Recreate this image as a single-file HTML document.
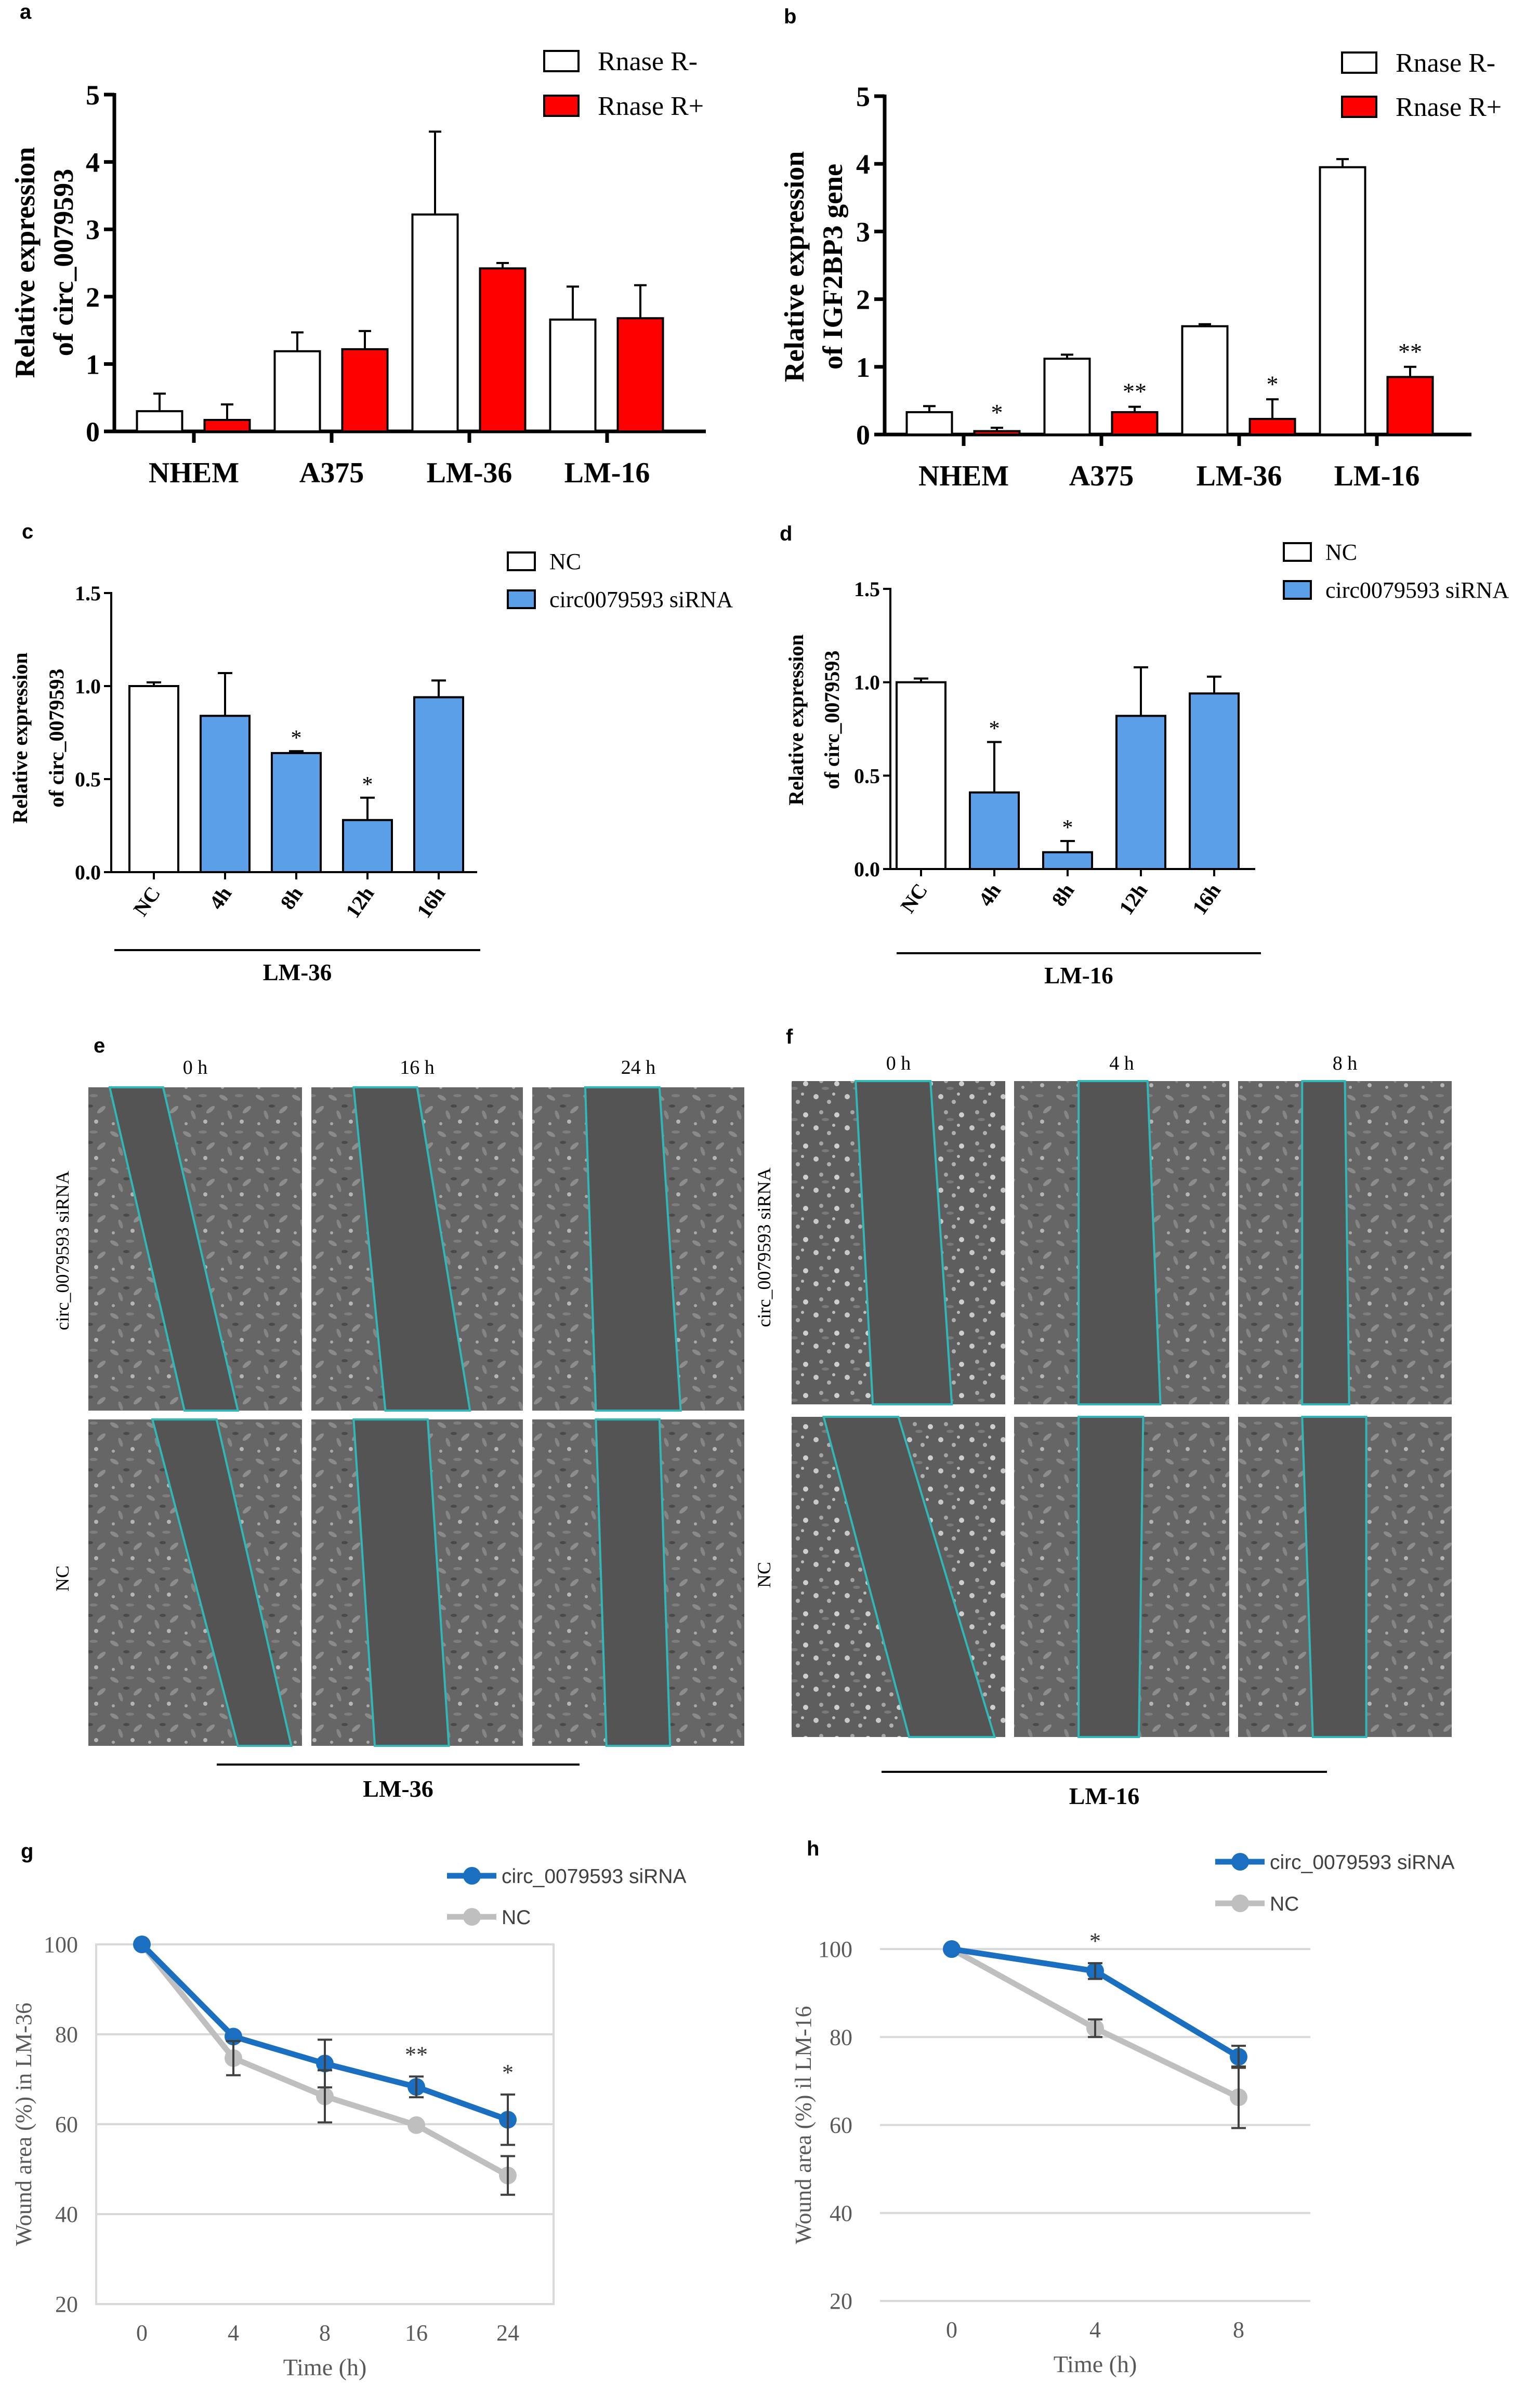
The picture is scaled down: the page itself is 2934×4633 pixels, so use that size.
<!DOCTYPE html>
<html><head><meta charset="utf-8"><style>
html,body{margin:0;padding:0;background:#fff;}
svg{display:block;}
.serif{font-family:"Liberation Serif",serif;}
.sans{font-family:"Liberation Sans",sans-serif;}
</style></head><body>
<svg id="fig" xmlns="http://www.w3.org/2000/svg" width="2934" height="4633" viewBox="0 0 2934 4633">
<defs>
<pattern id="cellsA" width="70" height="70" patternUnits="userSpaceOnUse">
<rect width="70" height="70" fill="#666"/>
<ellipse cx="10" cy="12" rx="9" ry="4" fill="#8a8a8a" transform="rotate(30 10 12)"/>
<ellipse cx="40" cy="8" rx="8" ry="3" fill="#7e7e7e"/>
<ellipse cx="55" cy="35" rx="10" ry="4" fill="#8d8d8d" transform="rotate(-40 55 35)"/>
<ellipse cx="22" cy="45" rx="9" ry="3.5" fill="#858585" transform="rotate(70 22 45)"/>
<circle cx="45" cy="58" r="4" fill="#b5b5b5"/>
<circle cx="8" cy="62" r="3" fill="#a8a8a8"/>
<ellipse cx="33" cy="28" rx="6" ry="3" fill="#4a4a4a"/>
</pattern>
<pattern id="cellsB" width="60" height="60" patternUnits="userSpaceOnUse">
<rect width="60" height="60" fill="#5e5e5e"/>
<circle cx="10" cy="10" r="5" fill="#c8c8c8"/>
<circle cx="35" cy="20" r="4" fill="#b0b0b0"/>
<circle cx="50" cy="45" r="5" fill="#cfcfcf"/>
<circle cx="20" cy="40" r="4" fill="#a5a5a5"/>
<circle cx="44" cy="5" r="3" fill="#bdbdbd"/>
<ellipse cx="28" cy="54" rx="7" ry="3" fill="#7a7a7a"/>
</pattern>
</defs>
</svg>
<script>
// ---------- DATA ----------
const aCats = ['NHEM','A375','LM-36','LM-16'];
const aMinus = [0.30,1.19,3.22,1.66];
const aMinusErr = [0.26,0.28,1.23,0.49];
const aPlus = [0.17,1.22,2.42,1.68];
const aPlusErr = [0.23,0.27,0.08,0.49];
const aTicks = ['0','1','2','3','4','5'];

const bCats = ['NHEM','A375','LM-36','LM-16'];
const bMinus = [0.33,1.12,1.60,3.95];
const bMinusErr = [0.09,0.06,0.03,0.12];
const bPlus = [0.05,0.33,0.23,0.85];
const bPlusErr = [0.05,0.08,0.29,0.15];
const bStars = ['*','**','*','**'];

const cCats = ['NC','4h','8h','12h','16h'];
const cVals = [1.00,0.84,0.64,0.28,0.94];
const cErr = [0.02,0.23,0.01,0.12,0.09];
const cStars = ['','','*','*',''];
const cdTicks = ['0.0','0.5','1.0','1.5'];

const dCats = ['NC','4h','8h','12h','16h'];
const dVals = [1.00,0.41,0.09,0.82,0.94];
const dErr = [0.02,0.27,0.06,0.26,0.09];
const dStars = ['','*','*','',''];

const gCats = ['0','4','8','16','24'];
const gSi = [100,79.5,73.5,68.3,61.0];
const gSiErr = [0,0,5.3,2.3,5.6];
const gNc = [100,74.7,66.2,59.8,48.6];
const gNcErr = [0,3.8,5.8,0,4.3];
const gStars = ['','','','**','*'];
const ghTicks = [20,40,60,80,100];

const hCats = ['0','4','8'];
const hSi = [100,95.0,75.5];
const hSiErr = [0,1.8,2.5];
const hNc = [100,82.0,66.3];
const hNcErr = [0,2.0,7.0];
const hStars = ['','*',''];

// ---------- HELPERS ----------
const svg = document.getElementById('fig');
const NS = 'http://www.w3.org/2000/svg';
function mk(tag, attrs, parent){
  const e = document.createElementNS(NS, tag);
  for (const k in attrs) e.setAttribute(k, attrs[k]);
  (parent||svg).appendChild(e);
  return e;
}
function txt(s, attrs, parent){ const t = mk('text', attrs, parent); t.textContent = s; return t; }

function panelLabel(ch, x, y){
  const t = txt(ch, {x:x, y:y, 'font-size':40, 'font-weight':'bold', class:'sans'});
  
  
}

function groupBar(id, g0, cats, minus, minusErr, plus, plusErr, stars, ylab){
  const G = mk('g', {});
  
  
  const y = v => g0.y0 - (g0.y0 - g0.y5) * v / 5;
  const bw = 87;
  const ax = mk('line', {x1:g0.ax, y1:g0.y5-3, x2:g0.ax, y2:g0.y0+3, stroke:'#000','stroke-width':7}, G);
  
  
  aTicks.forEach((t,i) => {
    mk('line', {x1:g0.ax-20, y1:y(i), x2:g0.ax, y2:y(i), stroke:'#000','stroke-width':7}, G);
    const tl = txt(t, {x:g0.ax-28, y:y(i)+19, 'font-size':54, 'font-weight':'bold', 'text-anchor':'end', class:'serif'}, G);
    
    
  });
  const xa = mk('line', {x1:g0.ax, y1:g0.y0, x2:g0.xe, y2:g0.y0, stroke:'#000','stroke-width':7}, G);
  
  
  cats.forEach((c,i) => {
    const cx = g0.c0 + i * g0.step;
    mk('line', {x1:cx, y1:g0.y0, x2:cx, y2:g0.y0+22, stroke:'#000','stroke-width':7}, G);
    const cl = txt(c, {x:cx, y:g0.y0+98, 'font-size':56, 'font-weight':'bold', 'text-anchor':'middle', class:'serif'}, G);
    
    
    [[minus, minusErr, '#fff', -66], [plus, plusErr, '#ff0000', 64]].forEach(([vals, errs, fill, off], s) => {
      const bx = cx + off - bw/2, top = y(vals[i]), et = y(vals[i] + errs[i]);
      mk('line', {x1:cx+off, y1:top, x2:cx+off, y2:et, stroke:'#000','stroke-width':4}, G);
      mk('line', {x1:cx+off-12, y1:et, x2:cx+off+12, y2:et, stroke:'#000','stroke-width':4}, G);
      const r = mk('rect', {x:bx, y:top, width:bw, height:g0.y0-top, fill:fill, stroke:'#000','stroke-width':4}, G);
      
      
      if (s === 1 && stars && stars[i]) {
        const st = txt(stars[i], {x:cx+off, y:et-14, 'font-size':46, 'text-anchor':'middle', class:'serif'}, G);
        
        
      }
    });
  });
  const yl = txt('', {transform:`translate(${g0.yl1},${g0.ylc}) rotate(-90)`, 'font-size':54, 'font-weight':'bold', 'text-anchor':'middle', class:'serif'}, G);
  
  
  const s1 = mk('tspan', {x:0, y:0}, yl); s1.textContent = 'Relative expression';
  const s2 = mk('tspan', {x:0, y:g0.yl2 - g0.yl1}, yl); s2.textContent = ylab;
  [['Rnase R-','#fff',g0.ly1],['Rnase R+','#ff0000',g0.ly2]].forEach(([l,f,ly]) => {
    const lg = mk('g', {}, G);
    
    
    mk('rect', {x:g0.lx, y:ly-19, width:66, height:39, fill:f, stroke:'#000','stroke-width':4}, lg);
    txt(l, {x:g0.lx+103, y:ly+18, 'font-size':52, class:'serif'}, lg);
  });
}

function singleBar(id, g0, cats, vals, errs, stars, line){
  const G = mk('g', {});
  
  
  const y = v => g0.y0 - (g0.y0 - g0.y15) * v / 1.5;
  const bw = 94;
  const ax = mk('line', {x1:g0.ax, y1:g0.y15-2, x2:g0.ax, y2:g0.y0+2, stroke:'#000','stroke-width':4}, G);
  
  
  cdTicks.forEach((t,i) => {
    const v = parseFloat(t);
    mk('line', {x1:g0.ax-14, y1:y(v), x2:g0.ax, y2:y(v), stroke:'#000','stroke-width':4}, G);
    const tl = txt(t, {x:g0.ax-20, y:y(v)+14, 'font-size':40, 'font-weight':'bold', 'text-anchor':'end', class:'serif'}, G);
    
    
  });
  const xa = mk('line', {x1:g0.ax, y1:g0.y0, x2:g0.xe, y2:g0.y0, stroke:'#000','stroke-width':4}, G);
  
  
  cats.forEach((c,i) => {
    const cx = g0.c0 + i * g0.step;
    mk('line', {x1:cx, y1:g0.y0, x2:cx, y2:g0.y0+14, stroke:'#000','stroke-width':4}, G);
    const top = y(vals[i]), et = y(vals[i] + errs[i]);
    mk('line', {x1:cx, y1:top, x2:cx, y2:et, stroke:'#000','stroke-width':4}, G);
    mk('line', {x1:cx-14, y1:et, x2:cx+14, y2:et, stroke:'#000','stroke-width':4}, G);
    const r = mk('rect', {x:cx-bw/2, y:top, width:bw, height:g0.y0-top, fill:i===0?'#fff':'#5a9fe8', stroke:'#000','stroke-width':4}, G);
    
    
    if (stars[i]) {
      const st = txt(stars[i], {x:cx, y:et-12, 'font-size':42, 'text-anchor':'middle', class:'serif'}, G);
      
      
    }
    const cl = txt(c, {transform:`translate(${cx+14},${g0.y0+40}) rotate(-55)`, 'font-size':40, 'font-weight':'bold', 'text-anchor':'end', class:'serif'}, G);
    
    
  });
  const yl = txt('', {transform:`translate(${g0.yl1},${g0.ylc}) rotate(-90)`, 'font-size':40, 'font-weight':'bold', 'text-anchor':'middle', class:'serif'}, G);
  
  
  const s1 = mk('tspan', {x:0, y:0}, yl); s1.textContent = 'Relative expression';
  const s2 = mk('tspan', {x:0, y:g0.yl2 - g0.yl1}, yl); s2.textContent = 'of circ_0079593';
  const gl = mk('line', {x1:line.x1, y1:line.y, x2:line.x2, y2:line.y, stroke:'#000','stroke-width':4}, G);
  
  
  const gt = txt(line.label, {x:(line.x1+line.x2)/2, y:line.y+58, 'font-size':45, 'font-weight':'bold', 'text-anchor':'middle', class:'serif'}, G);
  
  
  [['NC','#fff',g0.ly1],['circ0079593 siRNA','#5a9fe8',g0.ly2]].forEach(([l,f,ly]) => {
    const lg = mk('g', {}, G);
    
    
    mk('rect', {x:g0.lx, y:ly-17, width:52, height:34, fill:f, stroke:'#000','stroke-width':4}, lg);
    txt(l, {x:g0.lx+80, y:ly+15, 'font-size':44, class:'serif'}, lg);
  });
}

function lineChart(id, g0, cats, si, siErr, nc, ncErr, stars, ylab, border){
  const G = mk('g', {});
  
  
  const y = v => g0.y20 - (g0.y20 - g0.y100) * (v - 20) / 80;
  const x = i => g0.x0 + g0.step * (i + 0.5);
  ghTicks.forEach(t => {
    const gl = mk('line', {x1:g0.x0, y1:y(t), x2:g0.x1, y2:y(t), stroke:'#d9d9d9','stroke-width':4}, G);
    
    
    const tl = txt(String(t), {x:g0.tx, y:y(t)+15, 'font-size':44, fill:'#595959', 'text-anchor':'end', class:'serif'}, G);
    
    
  });
  if (border) {
    const b = mk('rect', {x:g0.x0, y:y(100), width:g0.x1-g0.x0, height:y(20)-y(100), fill:'none', stroke:'#d9d9d9','stroke-width':4}, G);
    
    
  }
  cats.forEach((c,i) => {
    const tl = txt(c, {x:x(i), y:y(20)+70, 'font-size':44, fill:'#595959', 'text-anchor':'middle', class:'serif'}, G);
    
    
  });
  const xt = txt('Time (h)', {x:(g0.x0+g0.x1)/2, y:y(20)+137, 'font-size':46, fill:'#595959', 'text-anchor':'middle', class:'serif'}, G);
  
  
  const yt = txt(ylab, {transform:`translate(${g0.ylx},${(y(20)+y(100))/2}) rotate(-90)`, 'font-size':44, fill:'#595959', 'text-anchor':'middle', class:'serif'}, G);
  
  
  [[nc, ncErr, '#bfbfbf', 'series-nc'], [si, siErr, '#1a6fc0', 'series-sirna']].forEach(([vals, errs, col, nm]) => {
    const pl = mk('polyline', {points: vals.map((v,i) => x(i)+','+y(v)).join(' '), fill:'none', stroke:col, 'stroke-width':11, 'stroke-linejoin':'round'}, G);
    
    
    vals.forEach((v,i) => {
      const c = mk('circle', {cx:x(i), cy:y(v), r:17, fill:col}, G);
      
      
    });
  });
  [[nc, ncErr], [si, siErr]].forEach(([vals, errs]) => {
    vals.forEach((v,i) => {
      if (!errs[i]) return;
      const a = y(v + errs[i]), b = y(v - errs[i]);
      mk('line', {x1:x(i), y1:a, x2:x(i), y2:b, stroke:'#404040','stroke-width':4}, G);
      mk('line', {x1:x(i)-14, y1:a, x2:x(i)+14, y2:a, stroke:'#404040','stroke-width':4}, G);
      mk('line', {x1:x(i)-14, y1:b, x2:x(i)+14, y2:b, stroke:'#404040','stroke-width':4}, G);
    });
  });
  stars.forEach((s,i) => {
    if (!s) return;
    const st = txt(s, {x:x(i), y:y(si[i] + siErr[i]) - 28, 'font-size':44, fill:'#333', 'text-anchor':'middle', class:'serif'}, G);
    
    
  });
  [['circ_0079593 siRNA','#1a6fc0',g0.ly1],['NC','#bfbfbf',g0.ly2]].forEach(([l,col,ly]) => {
    const lg = mk('g', {}, G);
    
    
    mk('line', {x1:g0.lx, y1:ly, x2:g0.lx+95, y2:ly, stroke:col, 'stroke-width':11}, lg);
    mk('circle', {cx:g0.lx+48, cy:ly, r:17, fill:col}, lg);
    txt(l, {x:g0.lx+105, y:ly+14, 'font-size':39, fill:'#404040', class:'sans'}, lg);
  });
}

function micro(x, y, w, h, band, pat, nm){
  const G = mk('g', {});
  
  
  mk('rect', {x:x, y:y, width:w, height:h, fill:'url(#'+pat+')'}, G);
  const p = `${x+w*band[0]},${y} ${x+w*band[1]},${y} ${x+w*band[3]},${y+h} ${x+w*band[2]},${y+h}`;
  mk('polygon', {points:p, fill:'#545454', stroke:'#30b8b8', 'stroke-width':4}, G);
}

// ---------- DRAW ----------
panelLabel('a', 38, 36);
groupBar('a', {ax:220, y5:182, y0:830, xe:1358, c0:373, step:265, yl1:66, yl2:140, ylc:505, lx:1047, ly1:117, ly2:203}, aCats, aMinus, aMinusErr, aPlus, aPlusErr, null, 'of circ_0079593');
panelLabel('b', 1508, 45);
groupBar('b', {ax:1702, y5:185, y0:836, xe:2831, c0:1854, step:265, yl1:1546, yl2:1620, ylc:513, lx:2582, ly1:120, ly2:205}, bCats, bMinus, bMinusErr, bPlus, bPlusErr, bStars, 'of IGF2BP3 gene');

panelLabel('c', 42, 1036);
singleBar('c', {ax:214, y15:1141, y0:1678, xe:918, c0:296, step:137, yl1:52, yl2:122, ylc:1420, lx:977, ly1:1080, ly2:1153}, cCats, cVals, cErr, cStars, {x1:220, x2:924, y:1828, label:'LM-36'});
panelLabel('d', 1500, 1040);
singleBar('d', {ax:1713, y15:1133, y0:1672, xe:2415, c0:1772, step:141, yl1:1545, yl2:1614, ylc:1385, lx:2470, ly1:1062, ly2:1135}, dCats, dVals, dErr, dStars, {x1:1725, x2:2426, y:1834, label:'LM-16'});

panelLabel('e', 180, 2025);
panelLabel('f', 1512, 2008);
const eCols = [[170,411],[599,407],[1024,408]];
const eRows = [[2092,622],[2731,628]];
const eBands = [[[.1,.35,.45,.7],[.2,.5,.35,.75],[.25,.6,.3,.7]],[[.3,.6,.7,.95],[.2,.55,.3,.65],[.3,.6,.35,.65]]];
const fCols = [[1523,411],[1951,414],[2382,411]];
const fRows = [[2080,622],[2726,616]];
const fBands = [[[.3,.65,.38,.75],[.3,.62,.3,.68],[.3,.5,.3,.52]],[[.15,.5,.55,.95],[.3,.6,.3,.58],[.3,.6,.35,.6]]];
const eHead = ['0 h','16 h','24 h'], fHead = ['0 h','4 h','8 h'];
eRows.forEach((r,ri) => eCols.forEach((c,ci) => micro(c[0], r[0], c[1], r[1], eBands[ri][ci], 'cellsA', 'micrograph-e-r'+(ri+1)+'c'+(ci+1))));
fRows.forEach((r,ri) => fCols.forEach((c,ci) => micro(c[0], r[0], c[1], r[1], fBands[ri][ci], ci===0?'cellsB':'cellsA', 'micrograph-f-r'+(ri+1)+'c'+(ci+1))));
[[eCols,eHead,2066,[417,1115,3395,'LM-36'],132,[2406,3037]],[fCols,fHead,2058,[1696,2553,3409,'LM-16'],1482,[2400,3030]]].forEach(([cols,heads,hy,ln,lx,rys]) => {
  cols.forEach((c,i) => {
    const t = txt(heads[i], {x:c[0]+c[1]/2, y:hy, 'font-size':38, 'text-anchor':'middle', class:'serif'});
    
    
  });
  [['circ_0079593 siRNA',rys[0]],['NC',rys[1]]].forEach(([s,yy]) => {
    const t = txt(s, {transform:`translate(${lx},${yy}) rotate(-90)`, 'font-size':36, 'text-anchor':'middle', class:'serif'});
    
    
  });
  const l = mk('line', {x1:ln[0], y1:ln[2], x2:ln[1], y2:ln[2], stroke:'#000','stroke-width':4});
  
  
  const t = txt(ln[3], {x:(ln[0]+ln[1])/2, y:ln[2]+62, 'font-size':46, 'font-weight':'bold', 'text-anchor':'middle', class:'serif'});
  
  
});

panelLabel('g', 40, 3575);
lineChart('g', {x0:185, x1:1065, step:176, y100:3741, y20:4433, tx:150, ylx:60, lx:860, ly1:3609, ly2:3688}, gCats, gSi, gSiErr, gNc, gNcErr, gStars, 'Wound area (%) in LM-36', true);
panelLabel('h', 1552, 3570);
lineChart('h', {x0:1693, x1:2521, step:276, y100:3750, y20:4427, tx:1640, ylx:1560, lx:2338, ly1:3582, ly2:3662}, hCats, hSi, hSiErr, hNc, hNcErr, hStars, 'Wound area (%) il LM-16', false);
</script>
</body></html>
